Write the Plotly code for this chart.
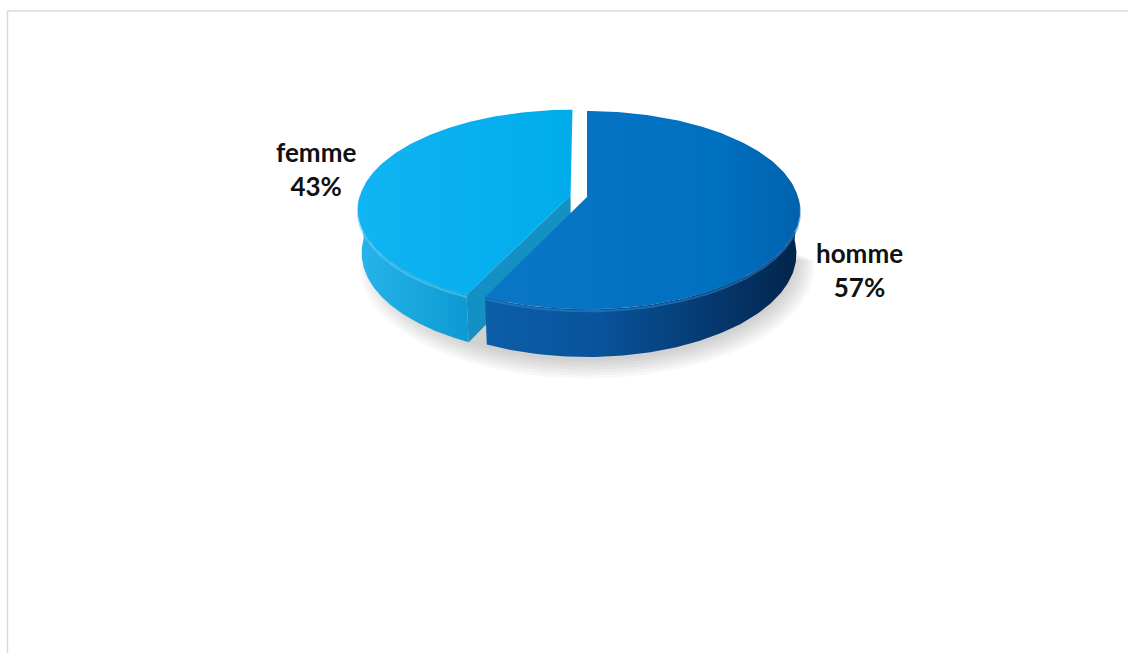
import numpy as np
import plotly.graph_objects as go

# ---- data ----
labels = ["homme", "femme"]
values = [57, 43]

# ---- styling ----
top_scales = [
    [[0, "#0B76C6"], [0.75, "#0070C0"], [1, "#0062AE"]],
    [[0, "#10B4F2"], [1, "#00ACEC"]],
]
wall_scales = [
    [[0, "#0C5EA8"], [0.35, "#08549C"], [0.7, "#063A72"], [1, "#02244A"]],
    [[0, "#27B4EA"], [1, "#0C9AD2"]],
]
cut_colors = ["#0A5598", "#1390C4"]
rim_colors = ["#2A82CE", "#5CCBF4"]
explode = [0.0, 0.08]

W, H = 1128, 653
CX, CY = 587, 197          # screen position of the pie centre
SCALE = 211                 # pixels per unit radius
ELEV = np.radians(27.5)     # viewing elevation
DIST = 6.7                  # camera distance (perspective)
DEPTH = 0.235               # pie thickness in radius units


def project(X, Y, Z):
    u = Y * np.cos(ELEV) + Z * np.sin(ELEV)
    d = -Y * np.sin(ELEV) + Z * np.cos(ELEV)
    k = DIST / (DIST + d)
    return CX + SCALE * X * k, CY - SCALE * u * k


def arc(ox, oz, a_from, a_to, y, n=120):
    t = np.radians(np.linspace(a_from, a_to, n))
    return project(ox + np.sin(t), np.full_like(t, y), oz + np.cos(t))


fig = go.Figure()

# soft shadow beneath the near half of the pie
for i in range(7):
    sc = 1.0 + 0.014 * i
    t = np.radians(np.linspace(95, 265, 160))
    sx, sy = project(sc * np.sin(t), np.full_like(t, -DEPTH), sc * np.cos(t))
    fig.add_trace(go.Scatter(x=sx, y=sy + 4 + i, mode="lines", fill="toself",
                             fillcolor="rgba(60,60,60,0.035)", line=dict(width=0),
                             hoverinfo="skip", showlegend=False))

total = sum(values)
slices = []
start = 0.0
for i, v in enumerate(values):
    span = 360.0 * v / total
    a0, a1 = start, start + span
    mid = np.radians((a0 + a1) / 2)
    ox, oz = explode[i] * np.sin(mid), explode[i] * np.cos(mid)
    slices.append((i, a0, a1, ox, oz))
    start = a1

# far slices first
slices.sort(key=lambda s: -s[4] - np.cos(np.radians((s[1] + s[2]) / 2)))

for i, a0, a1, ox, oz in slices:
    # radial cut faces that face the viewer
    for edge, direction in ((a0, a0 - 90), (a1, a1 + 90)):
        if np.cos(np.radians(direction)) < -1e-6:
            e = np.radians(edge)
            X = np.array([ox, ox + np.sin(e), ox + np.sin(e), ox])
            Z = np.array([oz, oz + np.cos(e), oz + np.cos(e), oz])
            Y = np.array([0, 0, -DEPTH, -DEPTH])
            px, py = project(X, Y, Z)
            fig.add_trace(go.Scatter(x=px, y=py, mode="lines", fill="toself",
                                     fillcolor=cut_colors[i], line=dict(width=0),
                                     hoverinfo="skip", showlegend=False))
    # outer wall on the near side
    lo, hi = max(a0, 90.0), min(a1, 270.0)
    if hi > lo:
        tx, ty = arc(ox, oz, lo, hi, 0.0)
        bx, by = arc(ox, oz, hi, lo, -DEPTH)
        fig.add_trace(go.Scatter(x=np.concatenate([tx, bx]), y=np.concatenate([ty, by]),
                                 mode="lines", fill="toself", line=dict(width=0),
                                 fillgradient=dict(type="horizontal", colorscale=wall_scales[i]),
                                 hoverinfo="skip", showlegend=False))
        fig.add_trace(go.Scatter(x=tx, y=ty + 2, mode="lines",
                                 line=dict(color=rim_colors[i], width=2), opacity=0.6,
                                 hoverinfo="skip", showlegend=False))
    # top face
    cx0, cy0 = project(np.array([ox]), np.array([0.0]), np.array([oz]))
    tx, ty = arc(ox, oz, a0, a1, 0.0, n=200)
    fig.add_trace(go.Scatter(x=np.concatenate([cx0, tx, cx0]), y=np.concatenate([cy0, ty, cy0]),
                             mode="lines", fill="toself", line=dict(width=0),
                             fillgradient=dict(type="horizontal", colorscale=top_scales[i]),
                             hoverinfo="skip", showlegend=False))

# data labels
label_pos = {"homme": (859, 270), "femme": (316, 169)}
for lab, v in zip(labels, values):
    pct = round(100 * v / total)
    x, y = label_pos[lab]
    fig.add_annotation(x=x, y=y, xref="x", yref="y", showarrow=False,
                       text=f"<b>{lab}</b><br><b>{pct}%</b>",
                       font=dict(family="Lato", size=26, color="#111111"),
                       xanchor="center", yanchor="middle", align="center")

# chart area border
fig.add_shape(type="line", x0=7.5, y0=11, x1=W, y1=11, line=dict(color="#D9D9D9", width=1.5))
fig.add_shape(type="line", x0=7.5, y0=11, x1=7.5, y1=H, line=dict(color="#D9D9D9", width=1.5))

fig.update_layout(
    width=W, height=H, margin=dict(l=0, r=0, t=0, b=0),
    paper_bgcolor="white", plot_bgcolor="white",
    xaxis=dict(range=[0, W], visible=False, fixedrange=True),
    yaxis=dict(range=[H, 0], visible=False, fixedrange=True),
    showlegend=False,
)

fig.write_html("out.html")
